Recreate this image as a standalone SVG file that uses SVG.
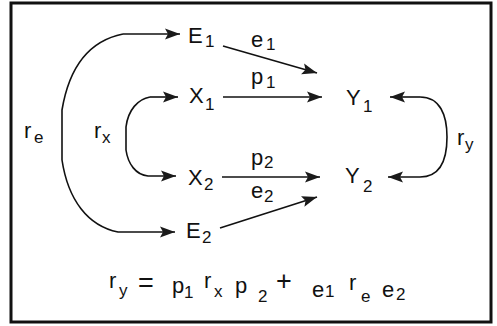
<svg xmlns="http://www.w3.org/2000/svg" width="497" height="326" viewBox="0 0 497 326">
<defs>
<marker id="ah" markerUnits="userSpaceOnUse" markerWidth="16" markerHeight="12" refX="15" refY="6" orient="auto">
<path d="M0,0.5 L15,6 L0,11.5 L3,6 z" fill="#1a1a1a"/>
</marker>
<style>
.t{font-family:"Liberation Sans",Arial,sans-serif;font-size:22px;fill:#111}
.s{font-family:"Liberation Sans",Arial,sans-serif;font-size:17px;fill:#111}
.b{font-family:"Liberation Sans",Arial,sans-serif;font-size:27px;fill:#111}
.c{fill:none;stroke:#111;stroke-width:1.6;marker-end:url(#ah)}
</style>
</defs>
<rect width="497" height="326" fill="#fff"/>
<rect x="11" y="3" width="480" height="319" fill="none" stroke="#111" stroke-width="3"/>
<g id="E1"><text class="t" x="188" y="43">E</text><text class="s" x="205" y="47">1</text></g>
<g id="X1"><text class="t" x="189" y="103">X</text><text class="s" x="205" y="110">1</text></g>
<g id="X2"><text class="t" x="188" y="185">X</text><text class="s" x="204" y="190">2</text></g>
<g id="E2"><text class="t" x="186" y="238">E</text><text class="s" x="202" y="243">2</text></g>
<g id="Y1"><text class="t" x="346" y="105">Y</text><text class="s" x="363" y="112">1</text></g>
<g id="Y2"><text class="t" x="345" y="183">Y</text><text class="s" x="363" y="192">2</text></g>
<g id="connectors">
<path class="c" d="M223,46 L317,73"/>
<path class="c" d="M223,97 L322,97"/>
<path class="c" d="M222,177 L320,177"/>
<path class="c" d="M220,228 L317,197"/>
<path class="c" d="M123,34 C93,40 70,62 62,110 L62,160 C68,200 88,226 118,232 L175,232"/>
<path class="c" d="M123,34 L180,34"/>
<path class="c" d="M150,97 C138,99 128,110 126,127 L126,150 C128,164 136,175 148,176 L176,176"/>
<path class="c" d="M150,97 L178,97"/>
<path class="c" d="M420,97 C440,97 447,115 447,137 C447,160 440,177 420,177 L388,177"/>
<path class="c" d="M420,97 L390,97"/>
</g>
<g id="labels">
<text class="t" x="251" y="47">e</text><text class="s" x="266" y="50">1</text>
<text class="t" x="251" y="84">p</text><text class="s" x="266" y="88">1</text>
<text class="t" x="251" y="165">p</text><text class="s" x="264" y="168">2</text>
<text class="t" x="251" y="198">e</text><text class="s" x="264" y="202">2</text>
<text class="t" x="24" y="138">r</text><text class="s" x="34" y="143">e</text>
<text class="t" x="94" y="138">r</text><text class="s" x="102" y="143">x</text>
<text class="t" x="457" y="145">r</text><text class="s" x="465" y="150">y</text>
</g>
<g id="equation">
<text class="t" x="109" y="288">r</text><text class="s" x="119" y="296">y</text>
<text class="b" x="138" y="292">=</text>
<text class="t" x="172" y="293">p</text><text class="s" x="184" y="298">1</text>
<text class="t" x="204" y="288">r</text><text class="s" x="214" y="297">x</text>
<text class="t" x="235" y="293">p</text><text class="s" x="258" y="302">2</text>
<text class="b" x="276" y="290">+</text>
<text class="t" x="312" y="297">e</text><text class="s" x="325" y="297">1</text>
<text class="t" x="349" y="290">r</text><text class="s" x="361" y="302">e</text>
<text class="t" x="382" y="297">e</text><text class="s" x="396" y="300">2</text>
</g>
</svg>
